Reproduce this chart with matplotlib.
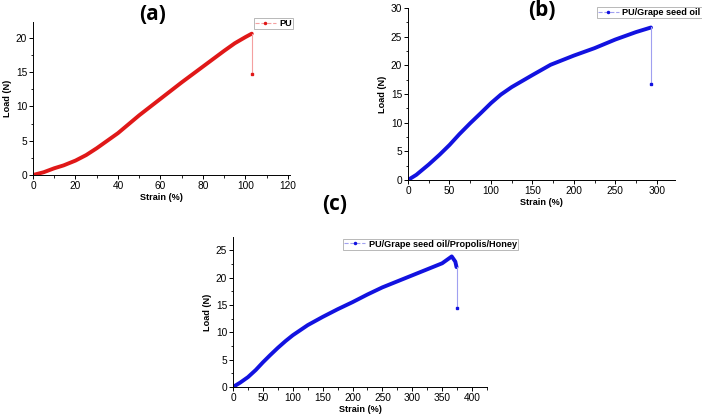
import matplotlib
matplotlib.use("Agg")
import matplotlib.pyplot as plt
from matplotlib.lines import Line2D
from matplotlib.ticker import MultipleLocator

#==============================================================================
# Data
#==============================================================================
strain_a = [0, 5, 10, 14.4, 20, 25, 30, 35, 40, 45, 50, 60, 70, 80, 90, 95, 100, 103]
load_a = [0, 0.4, 0.98, 1.4, 2.1, 2.9, 3.9, 5.0, 6.1, 7.4, 8.7, 11.1, 13.5, 15.8,
          18.1, 19.2, 20.1, 20.6]
break_a = [103, 14.7]

strain_b = [0, 10, 25, 38, 50, 62, 75, 88, 100, 112, 125, 150, 172, 200, 225, 250, 275, 293]
load_b = [0, 0.9, 2.7, 4.4, 6.1, 8.0, 9.9, 11.7, 13.4, 14.9, 16.2, 18.3, 20.1, 21.7,
          23.0, 24.5, 25.8, 26.6]
break_b = [293, 16.8]

strain_c = [0, 12, 25, 38, 50, 62, 75, 88, 100, 125, 150, 175, 200, 225, 250, 275,
            300, 325, 350, 366, 372, 374]
load_c = [0, 0.8, 1.8, 3.1, 4.5, 5.8, 7.15, 8.4, 9.45, 11.3, 12.8, 14.2, 15.5, 16.9,
          18.2, 19.3, 20.4, 21.5, 22.6, 23.85, 22.9, 21.9]
break_c = [374, 14.4]

labels = ['PU', 'PU/Grape seed oil', 'PU/Grape seed oil/Propolis/Honey']
titles = ['(a)', '(b)', '(c)']

#==============================================================================
# Figure
#==============================================================================
W, H = 702, 415
fig = plt.figure(figsize=(W/100, H/100), dpi=100)
plt.rcParams['font.family'] = ['Liberation Sans', 'DejaVu Sans']

def px_axes(l, t, r, b):
    return fig.add_axes([l/W, 1-b/H, (r-l)/W, (b-t)/H])

def style(ax, xmaj, ymaj, xlim, ylim):
    ax.set_xlim(*xlim)
    ax.set_ylim(*ylim)
    ax.spines['top'].set_visible(False)
    ax.spines['right'].set_visible(False)
    for s in ['left', 'bottom']:
        ax.spines[s].set_linewidth(0.7)
    ax.xaxis.set_major_locator(MultipleLocator(xmaj))
    ax.xaxis.set_minor_locator(MultipleLocator(xmaj/2))
    ax.yaxis.set_major_locator(MultipleLocator(ymaj))
    ax.yaxis.set_minor_locator(MultipleLocator(ymaj/2))
    ax.tick_params(which='major', length=3, width=0.7, labelsize=7.3, pad=1.2)
    ax.tick_params(which='minor', length=1.8, width=0.6)
    ax.set_xlabel('Strain (%)', fontsize=6.6, fontweight='bold', labelpad=1.5)
    ax.set_ylabel('Load (N)', fontsize=6.6, fontweight='bold', labelpad=3)

def draw(ax, x, y, brk, dark, light, label, anchor):
    ax.plot(x, y, color=dark, lw=2.8, solid_capstyle='round', solid_joinstyle='round')
    ax.plot([x[-1], brk[0]], [y[-1], brk[1]], color=light, lw=0.8)
    ax.plot(brk[0], brk[1], 's', color=dark, ms=1.5)
    h = Line2D([], [], color=light, ls='--', lw=0.8, marker='.', ms=3,
               mfc=dark, mec=dark)
    leg = ax.legend([h], [label], loc='upper right', bbox_to_anchor=anchor,
                    prop={'size': 6.6, 'weight': 'bold'}, frameon=True,
                    fancybox=False, borderpad=0.12, handlelength=2.3,
                    handletextpad=0.4, borderaxespad=0)
    leg.get_frame().set_edgecolor('#999999')
    leg.get_frame().set_linewidth(0.6)

red, pink = '#e01818', '#f4a0a0'
blue, lblue = '#1212e0', '#a0a0f0'

ax_a = px_axes(33, 22, 290, 175)
style(ax_a, 20, 5, (0, 121), (0, 22.3))
draw(ax_a, strain_a, load_a, break_a, red, pink, labels[0], (1.012, 1.026))

ax_b = px_axes(408, 8, 675, 180)
style(ax_b, 50, 5, (0, 322), (0, 30))
draw(ax_b, strain_b, load_b, break_b, blue, lblue, labels[1], (1.10, 1.006))

ax_c = px_axes(233, 237, 487, 387)
style(ax_c, 50, 5, (0, 425), (0, 27.4))
draw(ax_c, strain_c, load_c, break_c, blue, lblue, labels[2], (1.122, 0.99))

for t, (x, y) in zip(titles, [(153, 15), (542, 10), (335, 205)]):
    fig.text(x/W, 1-y/H, t, fontsize=15, fontweight='bold',
             ha='center', va='center', family=['Open Sans', 'DejaVu Sans'])

fig.savefig('out.png', dpi=100)
